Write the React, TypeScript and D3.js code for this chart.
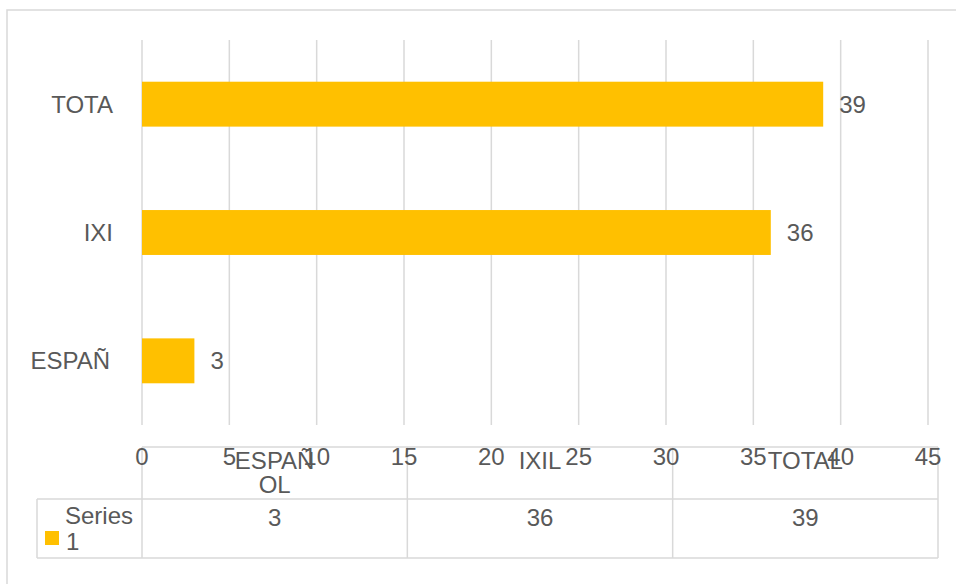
import React from "react";
import * as d3 from "d3";

const categories = ["ESPAÑOL", "IXIL", "TOTAL"];
const axisLabels = ["ESPAÑ", "IXI", "TOTA"];
const headerLines = [["ESPAÑ", "OL"], ["IXIL"], ["TOTAL"]];
const seriesName = ["Series", "1"];
const values = [3, 36, 39];
const xTicks = [0, 5, 10, 15, 20, 25, 30, 35, 40, 45];

const W = 956;
const H = 584;
const left = 142;
const right = 928;
const top = 40;
const bottom = 425;
const FONT = "'Liberation Sans', Arial, sans-serif";
const TXT = "#595959";
const GRID = "#d9d9d9";
const BAR = "#FFC000";
const FS = 24;

export default function App() {
  const x = d3.scaleLinear().domain([0, 45]).range([left, right]);
  const y = d3
    .scaleBand<string>()
    .domain([...categories].reverse())
    .range([top, bottom])
    .paddingInner(0.65)
    .paddingOuter(0.325);

  const tableTop = 447;
  const rowLine = 499;
  const tableBottom = 558;
  const colX = d3.scaleLinear().domain([0, 3]).range([142, 938]);

  return (
    <svg
      width={W}
      height={H}
      style={{ position: "absolute", left: 0, top: 0, background: "#fff" }}
      fontFamily={FONT}
    >
      <rect x={7} y={10} width={W + 20} height={H + 20} fill="#fff" stroke={GRID} strokeWidth={1.5} />
      {xTicks.map((t) => (
        <line key={"g" + t} x1={x(t)} x2={x(t)} y1={top} y2={bottom} stroke={GRID} strokeWidth={1.5} />
      ))}
      {categories.map((c, i) => (
        <g key={c}>
          <rect x={x(0)} y={y(c)!} width={x(values[i]) - x(0)} height={y.bandwidth()} fill={BAR} />
          <text
            x={x(values[i]) + 16}
            y={y(c)! + y.bandwidth() / 2}
            dy="0.35em"
            fontSize={FS}
            fill={TXT}
          >
            {values[i]}
          </text>
          <text
            x={i === 0 ? 110 : 113}
            y={y(c)! + y.bandwidth() / 2}
            dy="0.35em"
            fontSize={FS}
            fill={TXT}
            textAnchor="end"
          >
            {axisLabels[i]}
          </text>
        </g>
      ))}
      {/* data table */}
      <line x1={142} x2={938} y1={tableTop} y2={tableTop} stroke={GRID} strokeWidth={1.5} />
      <line x1={37} x2={938} y1={rowLine} y2={rowLine} stroke={GRID} strokeWidth={1.5} />
      <line x1={37} x2={938} y1={tableBottom} y2={tableBottom} stroke={GRID} strokeWidth={1.5} />
      <line x1={37} x2={37} y1={rowLine} y2={tableBottom} stroke={GRID} strokeWidth={1.5} />
      {[0, 1, 2, 3].map((k) => (
        <line key={"c" + k} x1={colX(k)} x2={colX(k)} y1={tableTop} y2={tableBottom} stroke={GRID} strokeWidth={1.5} />
      ))}
      {categories.map((c, i) => {
        const cx = (colX(i) + colX(i + 1)) / 2;
        return (
          <g key={"t" + c}>
            {headerLines[i].map((ln, j) => (
              <text key={j} x={cx} y={461 + j * 24} dy="0.35em" fontSize={FS} fill={TXT} textAnchor="middle">
                {ln}
              </text>
            ))}
            <text x={cx} y={518} dy="0.35em" fontSize={FS} fill={TXT} textAnchor="middle">
              {values[i]}
            </text>
          </g>
        );
      })}
      {/* x tick labels */}
      {xTicks.map((t) => (
        <text key={"t" + t} x={x(t)} y={457} dy="0.35em" fontSize={FS} fill={TXT} textAnchor="middle">
          {t}
        </text>
      ))}
      {/* legend */}
      <rect x={45} y={531} width={14} height={14} fill={BAR} />
      <text x={65} y={516} dy="0.35em" fontSize={FS} fill={TXT}>
        {seriesName[0]}
      </text>
      <text x={66} y={542} dy="0.35em" fontSize={FS} fill={TXT}>
        {seriesName[1]}
      </text>
    </svg>
  );
}
